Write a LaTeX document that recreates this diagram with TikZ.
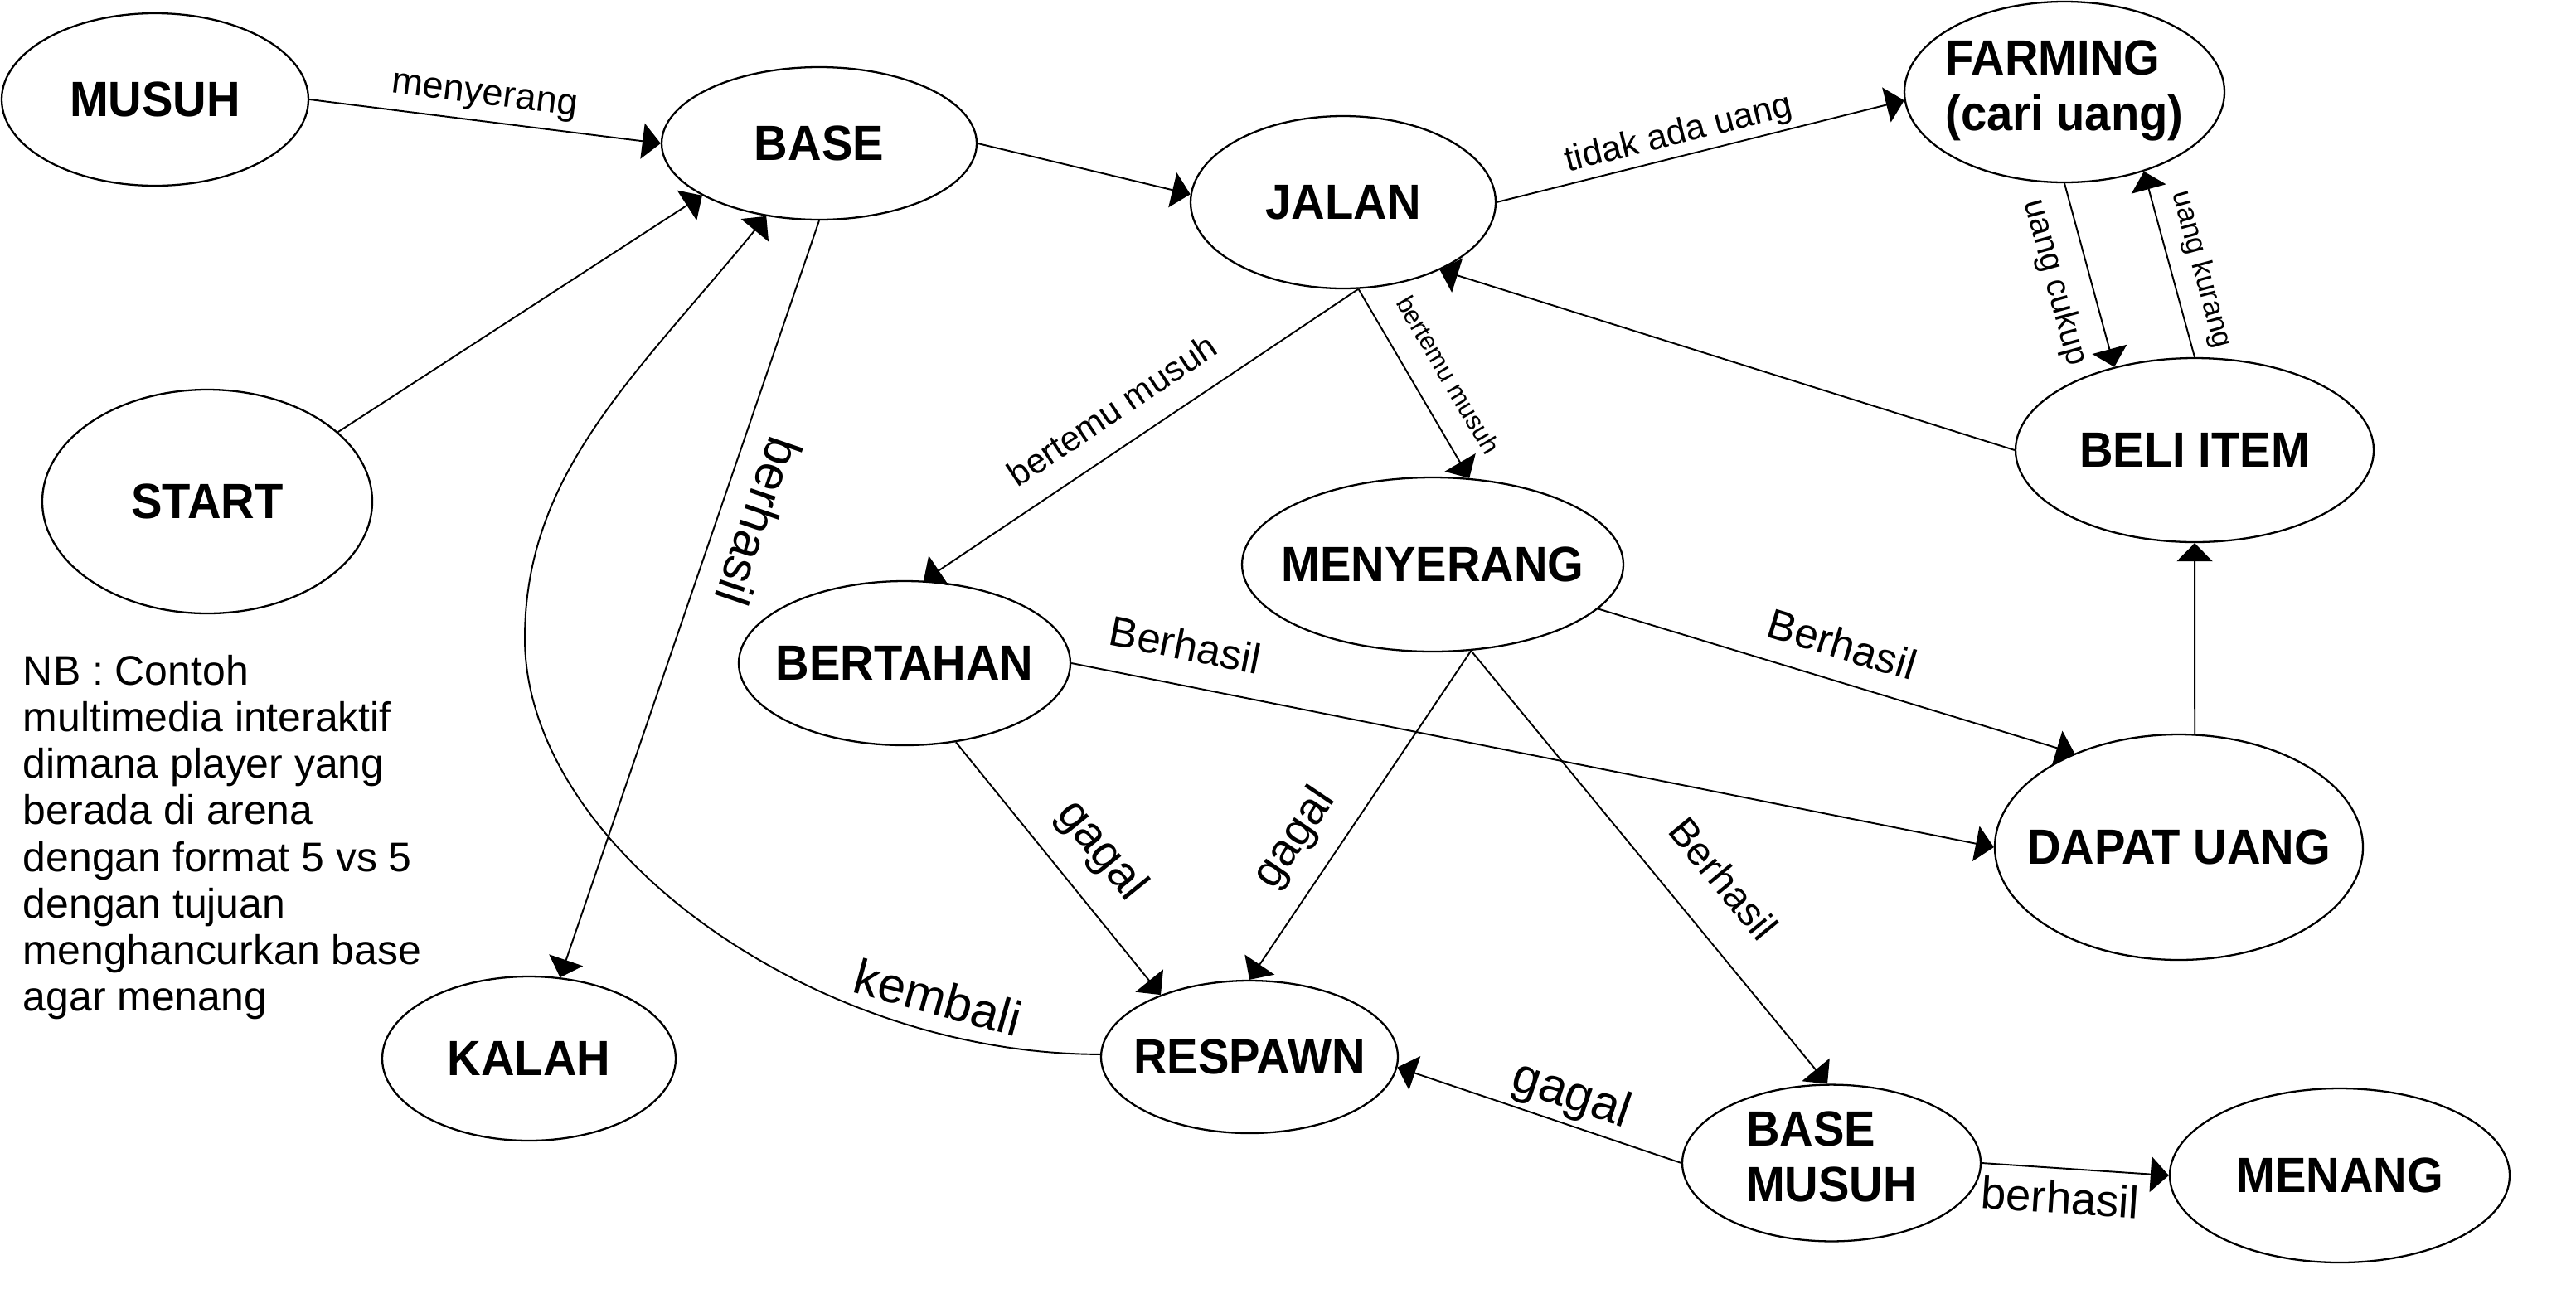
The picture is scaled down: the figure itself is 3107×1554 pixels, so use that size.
\documentclass[tikz,border=0pt]{standalone}
\usepackage{fontspec}
\setmainfont{Liberation Sans}
\newfontfamily\statefont[FakeStretch=0.94]{Liberation Sans}
\usetikzlibrary{shapes.geometric, arrows.meta}

\tikzset{
    state/.style={ellipse, draw, line width=0.65pt, inner sep=0pt, font=\statefont\bfseries\fontsize{17}{19}\selectfont},
    lbl/.style={inner sep=0pt, sloped, font=\fontsize{#1}{#1}\selectfont}
}

\begin{document}
\begin{tikzpicture}[x=0.1mm, y=-0.1mm, line width=0.55pt, >={Triangle[length=2.2mm, width=4.3mm]}]
                \useasboundingbox (0,0) rectangle (3107,1554);

                \node[state, minimum width=37mm, minimum height=20.8mm] (musuh) at (187,120) {\makebox[0pt]{MUSUH}};
                \node[state, minimum width=38mm, minimum height=18.4mm] (base) at (988,173) {\makebox[0pt]{BASE}};
                \node[state, minimum width=39.8mm, minimum height=27mm] (start) at (250,605) {\makebox[0pt]{START}};
                \node[state, minimum width=36.8mm, minimum height=20.8mm] (jalan) at (1620,244) {\makebox[0pt]{JALAN}};
                \node[state, minimum width=38.6mm, minimum height=21.8mm] (farming) at (2490,111) {\makebox[0pt]{\begin{tabular}{@{}l@{}}FARMING\\(cari uang)\end{tabular}}};
                \node[state, minimum width=43.2mm, minimum height=22.2mm] (beli) at (2647,543) {\makebox[0pt]{BELI ITEM}};
                \node[state, minimum width=46mm, minimum height=21mm] (menyerang) at (1728,681) {\makebox[0pt]{MENYERANG}};
                \node[state, minimum width=40mm, minimum height=19.8mm] (bertahan) at (1091,800) {\makebox[0pt]{BERTAHAN}};
                \node[state, minimum width=44.4mm, minimum height=27.2mm] (dapat) at (2628,1022) {\makebox[0pt]{DAPAT UANG}};
                \node[state, minimum width=35.4mm, minimum height=19.8mm] (kalah) at (638,1277) {\makebox[0pt]{KALAH}};
                \node[state, minimum width=35.8mm, minimum height=18.4mm] (respawn) at (1507,1275) {\makebox[0pt]{RESPAWN}};
                \node[state, minimum width=36mm, minimum height=18.6mm] (basemusuh) at (2209,1403) {\makebox[0pt]{\begin{tabular}{@{}l@{}}BASE\\MUSUH\end{tabular}}};
                \node[state, minimum width=41mm, minimum height=21mm] (menang) at (2822,1418) {\makebox[0pt]{MENANG}};

                \node[anchor=north west, align=left, inner sep=0pt, font=\fontsize{14.2}{16}\selectfont] (nb) at (27,789)
                    {NB : Contoh\\multimedia interaktif\\dimana player yang\\berada di arena\\dengan format 5 vs 5\\dengan tujuan\\menghancurkan base\\agar menang};

                \draw[->] (musuh.east) -- (base.west) node[lbl=12.8, pos=0.49, above=1mm] {menyerang};
                \draw[->] (start.28) -- (base.204);
                \draw[->] (base.east) -- (jalan.177);
                \draw[->] (base.south) -- (kalah.69) node[lbl=17, pos=0.38, allow upside down, above=2.6mm] {berhasil};
                \draw[->] (respawn.179) .. controls (978,1272) and (633,1020) .. (633,770)
                    node[lbl=17, pos=0.2, above=1.9mm] {kembali}
                    .. controls (633,570) and (767,453) .. (base.234);

                \draw[->] (jalan.east) -- (farming.183) node[lbl=12.2, pos=0.46, above=0.5mm] {tidak ada uang};
                \draw[->] (farming.south) -- (beli.134) node[lbl=11.3, pos=0.49, below=2.3mm] {uang cukup};
                \draw[->] (beli.north) -- (farming.-45) node[lbl=10, pos=0.43, above=1.8mm] {uang kurang};
                \draw[->] (beli.west) -- (jalan.-35);
                \draw[->] (jalan.280) -- (bertahan.77) node[lbl=12, pos=0.52, above=2.8mm] {bertemu musuh};
                \draw[->] (jalan.280) -- (menyerang.67) node[lbl=8.8, pos=0.545, above=2.9mm] {bertemu musuh};

                \draw[->] (menyerang.294) -- (respawn.north) node[lbl=15.5, pos=0.64, above=2.3mm] {gagal};
                \draw[->] (menyerang.294) -- (basemusuh.93) node[lbl=13.7, pos=0.6, above=4.2mm] {Berhasil};
                \draw[->] (menyerang.345) -- (dapat.138) node[lbl=14.5, pos=0.49, above=2.5mm] {Berhasil};
                \draw[->] (bertahan.east) -- (dapat.west) node[lbl=14.5, pos=0.115, above=2.9mm] {Berhasil};
                \draw[->] (bertahan.303) -- (respawn.145) node[lbl=16, pos=0.54, above=2.6mm] {gagal};
                \draw[->] (dapat.82) -- (beli.south);

                \draw[->] (basemusuh.west) -- (respawn.356) node[lbl=17, pos=0.42, above=0.5mm] {gagal};
                \draw[->] (basemusuh.east) -- (menang.west) node[lbl=15.5, pos=0.43, below=1.4mm] {berhasil};

            \end{tikzpicture}
\end{document}
